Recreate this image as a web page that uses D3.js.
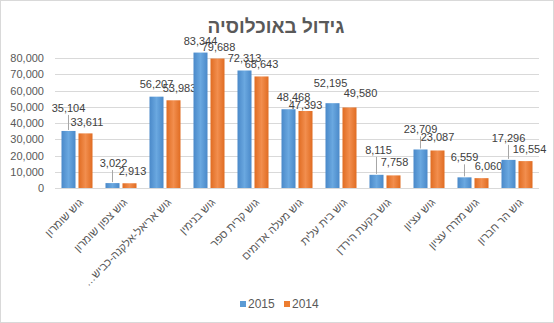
<!DOCTYPE html>
<html lang="he">
<head>
<meta charset="utf-8">
<script src="https://cdn.jsdelivr.net/npm/d3@7/dist/d3.min.js"></script>
<style>
  html, body { margin: 0; padding: 0; background: #fff; }
  svg { display: block; }
</style>
</head>
<body>
<div id="chart"></div>
<script>
// Population by settlement bloc, 2015 vs 2014
const categories = [
  "גוש שומרון",
  "גוש צפון שומרון",
  "גוש אריאל-אלקנה-כביש…",
  "גוש בנימין",
  "גוש קרית ספר",
  "גוש מעלה אדומים",
  "גוש בית עלית",
  "גוש בקעת הירדן",
  "גוש עציון",
  "גוש מזרח עציון",
  "גוש הר חברון"
];
const seriesNames = ["2015", "2014"];
const values2015 = [35104, 3022, 56207, 83344, 72313, 48468, 52195, 8115, 23709, 6559, 17296];
const values2014 = [33611, 2913, 53983, 79688, 68643, 47393, 49580, 7758, 23087, 6060, 16554];
const yTicks = [0, 10000, 20000, 30000, 40000, 50000, 60000, 70000, 80000];

// Hand placement of data labels (dx, dy in px from the default spot above each bar)
const nudge2015 = [[0, -12], [1, -9], [0, -2], [0, 0], [0, -1], [5, -1], [-2, -9], [2, -14], [0, -9], [0, -9], [0, -11]];
const nudge2014 = [[1.5, 0], [3, -1], [6, -1], [1, 0], [0, -1], [0, 5], [11, -3], [1, -2], [0, -2], [7, -1], [4, -1]];
const leader2015 = [true, true, false, false, false, false, false, true, true, true, true];

const W = 554, H = 323;
const plot = { left: 55, right: 539, top: 58, bottom: 188 };
const colors = { "2015": "#5B9BD5", "2014": "#ED7D31" };
const textColor = "#595959";
const fontFamily = "'Liberation Sans', Arial, sans-serif";

const svg = d3.select("#chart").append("svg")
  .attr("width", W).attr("height", H)
  .style("font-family", fontFamily);

// gradients for the bars: darker at the edges, lighter in the middle
const defs = svg.append("defs");
function makeGrad(id, edge, mid) {
  const g = defs.append("linearGradient").attr("id", id)
    .attr("x1", "0%").attr("x2", "100%").attr("y1", "0%").attr("y2", "0%");
  g.append("stop").attr("offset", "0%").attr("stop-color", edge);
  g.append("stop").attr("offset", "50%").attr("stop-color", mid);
  g.append("stop").attr("offset", "100%").attr("stop-color", edge);
}
makeGrad("g2015", "#4A89C9", "#6AA8E0");
makeGrad("g2014", "#E06C22", "#F28E4E");

// outer frame
svg.append("rect")
  .attr("x", 0.5).attr("y", 0.5).attr("width", W - 1).attr("height", H - 1)
  .attr("fill", "#fff").attr("stroke", "#D9D9D9");

// title
svg.append("text")
  .attr("x", 276).attr("y", 33)
  .attr("text-anchor", "middle")
  .attr("fill", textColor)
  .style("font-size", "19px").style("font-weight", "bold")
  .text("גידול באוכלוסיה");

const x = d3.scaleBand().domain(categories).range([plot.left, plot.right]).padding(0);
const x1 = d3.scaleBand().domain(seriesNames).range([0, x.bandwidth()])
  .paddingInner(0.176).paddingOuter(0.382);
const y = d3.scaleLinear().domain([0, 80000]).range([plot.bottom, plot.top]);

// gridlines
svg.append("g").selectAll("line").data(yTicks).join("line")
  .attr("x1", plot.left).attr("x2", plot.right)
  .attr("y1", d => Math.round(y(d)) + 0.5).attr("y2", d => Math.round(y(d)) + 0.5)
  .attr("stroke", "#D9D9D9").attr("stroke-width", 1);

// y axis labels
const yAxis = d3.axisLeft(y).tickValues(yTicks).tickFormat(d3.format(",")).tickSize(0).tickPadding(0);
const yg = svg.append("g").attr("transform", `translate(${plot.left - 11},0)`).call(yAxis);
yg.select(".domain").remove();
yg.selectAll("text").attr("fill", textColor).style("font-size", "11px").style("font-family", fontFamily);

// bars
const rows = categories.map((c, i) => ({
  cat: c, i,
  vals: [
    { s: "2015", v: values2015[i], nudge: nudge2015[i], leader: leader2015[i] },
    { s: "2014", v: values2014[i], nudge: nudge2014[i], leader: false }
  ]
}));

const groups = svg.append("g").selectAll("g").data(rows).join("g")
  .attr("transform", d => `translate(${x(d.cat)},0)`);

groups.selectAll("rect").data(d => d.vals).join("rect")
  .attr("x", d => x1(d.s))
  .attr("width", x1.bandwidth())
  .attr("y", d => y(d.v))
  .attr("height", d => y(0) - y(d.v))
  .attr("fill", d => `url(#g${d.s})`);

// leader lines
groups.selectAll("line.leader").data(d => d.vals.filter(v => v.leader)).join("line")
  .attr("class", "leader")
  .attr("x1", d => x1(d.s) + x1.bandwidth() / 2)
  .attr("x2", d => x1(d.s) + x1.bandwidth() / 2)
  .attr("y1", d => y(d.v) - 11 + d.nudge[1] + 7)
  .attr("y2", d => y(d.v) - 1)
  .attr("stroke", "#A6A6A6").attr("stroke-width", 1);

// data labels
groups.selectAll("text.val").data(d => d.vals).join("text")
  .attr("class", "val")
  .attr("x", d => x1(d.s) + x1.bandwidth() / 2 + d.nudge[0])
  .attr("y", d => y(d.v) - 11 + d.nudge[1])
  .attr("dy", "0.35em")
  .attr("text-anchor", "middle")
  .attr("fill", "#404040")
  .style("font-size", "11px")
  .text(d => d3.format(",")(d.v));

// category labels, rotated; right-to-left text running down-left from the axis
svg.append("g").selectAll("text").data(categories).join("text")
  .attr("transform", d => `translate(${x(d) + x.bandwidth() / 2 + 7},${plot.bottom + 15}) rotate(-45)`)
  .attr("text-anchor", "start")
  .attr("direction", "rtl")
  .attr("fill", textColor)
  .style("font-size", "11px")
  .text(d => d);

// legend
const legend = svg.append("g").attr("transform", "translate(240,300)");
const li = legend.selectAll("g").data(seriesNames).join("g")
  .attr("transform", (d, i) => `translate(${i * 44},0)`);
li.append("rect").attr("x", 0).attr("y", 1).attr("width", 6).attr("height", 6)
  .attr("fill", d => colors[d]);
li.append("text").attr("x", 8).attr("y", 4).attr("dy", "0.35em")
  .attr("fill", textColor).style("font-size", "12px")
  .text(d => d);
</script>
</body>
</html>
